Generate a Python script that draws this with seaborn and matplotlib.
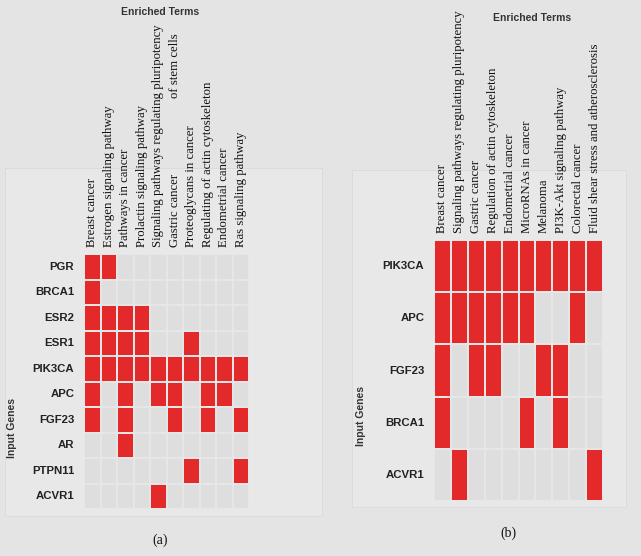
import numpy as np
import pandas as pd
import seaborn as sns
import matplotlib.pyplot as plt
from matplotlib.colors import ListedColormap
from matplotlib.patches import Rectangle
import matplotlib.transforms as mtransforms

# Panel (a) data
genes_a = ['PGR', 'BRCA1', 'ESR2', 'ESR1', 'PIK3CA', 'APC', 'FGF23', 'AR', 'PTPN11', 'ACVR1']
terms_a = ['Breast cancer', 'Estrogen signaling pathway', 'Pathways in cancer',
           'Prolactin signaling pathway', 'Signaling pathways regulating pluripotency',
           'Gastric cancer', 'Proteoglycans in cancer', 'Regulating of actin cytoskeleton',
           'Endometrial cancer', 'Ras signaling pathway']
pgr_a    = [1, 1, 0, 0, 0, 0, 0, 0, 0, 0]
brca1_a  = [1, 0, 0, 0, 0, 0, 0, 0, 0, 0]
esr2_a   = [1, 1, 1, 1, 0, 0, 0, 0, 0, 0]
esr1_a   = [1, 1, 1, 1, 0, 0, 1, 0, 0, 0]
pik3ca_a = [1, 1, 1, 1, 1, 1, 1, 1, 1, 1]
apc_a    = [1, 0, 1, 0, 1, 1, 0, 1, 1, 0]
fgf23_a  = [1, 0, 1, 0, 0, 1, 0, 1, 0, 1]
ar_a     = [0, 0, 1, 0, 0, 0, 0, 0, 0, 0]
ptpn11_a = [0, 0, 0, 0, 0, 0, 1, 0, 0, 1]
acvr1_a  = [0, 0, 0, 0, 1, 0, 0, 0, 0, 0]

# Panel (b) data
genes_b = ['PIK3CA', 'APC', 'FGF23', 'BRCA1', 'ACVR1']
terms_b = ['Breast cancer', 'Signaling pathways regulating pluripotency', 'Gastric cancer',
           'Regulation of actin cytoskeleton', 'Endometrial cancer', 'MicroRNAs in cancer',
           'Melanoma', 'PI3K-Akt signaling pathway', 'Colorectal cancer',
           'Fluid shear stress and atherosclerosis']
pik3ca_b = [1, 1, 1, 1, 1, 1, 1, 1, 1, 1]
apc_b    = [1, 1, 1, 1, 1, 1, 0, 0, 1, 0]
fgf23_b  = [1, 0, 1, 1, 0, 0, 1, 1, 0, 0]
brca1_b  = [1, 0, 0, 0, 0, 1, 0, 1, 0, 0]
acvr1_b  = [0, 1, 0, 0, 0, 0, 0, 0, 0, 1]

df_a = pd.DataFrame([pgr_a, brca1_a, esr2_a, esr1_a, pik3ca_a, apc_a, fgf23_a, ar_a, ptpn11_a, acvr1_a],
                    index=genes_a, columns=terms_a)
df_b = pd.DataFrame([pik3ca_b, apc_b, fgf23_b, brca1_b, acvr1_b], index=genes_b, columns=terms_b)

W, H = 641, 556
BG = '#e4e4e4'
cmap = ListedColormap(['#dedede', '#e4292b'])

fig = plt.figure(figsize=(W / 100, H / 100), dpi=100, facecolor=BG)


def px_box(x0, y0, x1, y1):
    # pixel box (top-left origin) -> figure fraction [left, bottom, width, height]
    return [x0 / W, 1 - y1 / H, (x1 - x0) / W, (y1 - y0) / H]


# background axes for the lighter panel boxes
bg = fig.add_axes([0, 0, 1, 1])
bg.set_xlim(0, W)
bg.set_ylim(H, 0)
bg.axis('off')
for (x0, y0, x1, y1) in [(5, 168, 322, 516), (352, 170, 626, 507)]:
    bg.add_patch(Rectangle((x0, y0), x1 - x0, y1 - y0, facecolor='#e8e8e8',
                           edgecolor='#dadada', lw=0.6))

ax_a = fig.add_axes(px_box(84, 254, 249, 509))
ax_b = fig.add_axes(px_box(434, 240, 603, 501))

for ax, df in [(ax_a, df_a), (ax_b, df_b)]:
    sns.heatmap(df, ax=ax, cmap=cmap, vmin=0, vmax=1, cbar=False,
                linewidths=0.3, linecolor='#e6e6e6')
    ax.xaxis.tick_top()
    ax.tick_params(axis='both', length=0)
    ax.tick_params(axis='x', pad=5, top=False, bottom=False, labeltop=True, labelbottom=False)
    ax.tick_params(axis='y', pad=7)
    ax.set_xticklabels(df.columns, rotation=90, fontsize=9.2, family='Liberation Serif',
                       color='#111111', va='bottom')
    ax.set_yticklabels(df.index, rotation=0, fontsize=8.2, family='Liberation Sans',
                       fontweight='bold', color='#222222')
    ax.set_xlabel('')
    ax.set_ylabel('')

# second line of the pluripotency term in panel (a)
trans = mtransforms.blended_transform_factory(ax_a.transData, fig.transFigure)
ax_a.text(5.5, 1 - 33 / H, 'of stem cells', transform=trans, rotation=90,
          ha='center', va='top', fontsize=9.2, family='Liberation Serif', color='#111111')

# titles and axis names
fig.text(160 / W, 1 - 12 / H, 'Enriched Terms', ha='center', va='center', fontsize=7.5,
         family='Liberation Sans', fontweight='bold', color='#333333')
fig.text(532 / W, 1 - 18 / H, 'Enriched Terms', ha='center', va='center', fontsize=7.5,
         family='Liberation Sans', fontweight='bold', color='#333333')
fig.text(12 / W, 1 - 428 / H, 'Input Genes', ha='center', va='center', rotation=90,
         fontsize=7.5, family='Liberation Sans', fontweight='bold', color='#333333')
fig.text(361 / W, 1 - 416 / H, 'Input Genes', ha='center', va='center', rotation=90,
         fontsize=7.5, family='Liberation Sans', fontweight='bold', color='#333333')

# panel letters
fig.text(160 / W, 1 - 540 / H, '(a)', ha='center', va='center', fontsize=10,
         family='Liberation Serif', color='#111111')
fig.text(508 / W, 1 - 533 / H, '(b)', ha='center', va='center', fontsize=10,
         family='Liberation Serif', color='#111111')

fig.savefig('out.png', dpi=100, facecolor=BG)
